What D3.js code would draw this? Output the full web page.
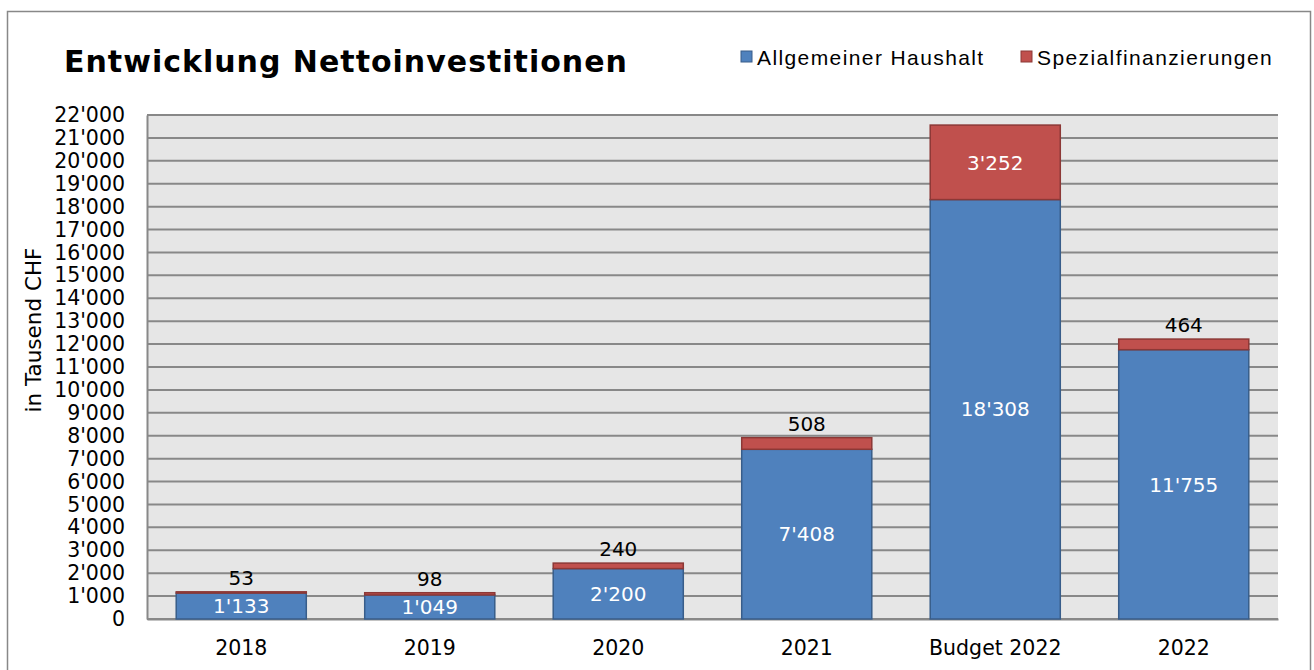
<!DOCTYPE html>
<html>
<head>
<meta charset="utf-8">
<script src="https://cdn.jsdelivr.net/npm/d3@7"></script>
<style>
  body { margin: 0; background: #fff; }
  svg { display: block; }
</style>
</head>
<body>
<svg id="chart" width="1314" height="670"></svg>
<script>
// chart data
const categories = ["2018", "2019", "2020", "2021", "Budget 2022", "2022"];
const allgemeiner = [1133, 1049, 2200, 7408, 18308, 11755];
const spezial = [53, 98, 240, 508, 3252, 464];
const seriesNames = ["Allgemeiner Haushalt", "Spezialfinanzierungen"];
const yTicks = d3.range(0, 22001, 1000);

const fill = ["#4F81BD", "#C0504D"];
const stroke = ["#385D8A", "#8C3836"];
const tickFont = "DejaVu Sans, Verdana, sans-serif";
const fmt = v => d3.format(",")(v).replace(/,/g, "'");

const svg = d3.select("#chart");

// outer frame
svg.append("rect")
    .attr("x", 7.5).attr("y", 11.5)
    .attr("width", 1303).attr("height", 680)
    .attr("fill", "#fff")
    .attr("stroke", "#888").attr("stroke-width", 1.5);

const margin = { left: 147, right: 1278, top: 115, bottom: 619 };

const x = d3.scaleBand()
    .domain(categories)
    .range([margin.left, margin.right])
    .paddingInner(0.31)
    .paddingOuter(0.155);

const y = d3.scaleLinear()
    .domain([0, 22000])
    .range([margin.bottom, margin.top]);

// plot background
svg.append("rect")
    .attr("x", margin.left).attr("y", margin.top)
    .attr("width", margin.right - margin.left)
    .attr("height", margin.bottom - margin.top)
    .attr("fill", "#E6E6E6");

// gridlines
svg.append("g")
    .selectAll("line")
    .data(yTicks)
    .join("line")
    .attr("x1", margin.left).attr("x2", margin.right)
    .attr("y1", d => y(d)).attr("y2", d => y(d))
    .attr("stroke", "#888").attr("stroke-width", 2);

// y axis
const yAxis = svg.append("g")
    .attr("transform", `translate(${margin.left},0)`)
    .call(d3.axisLeft(y).tickValues(yTicks).tickSize(0).tickPadding(22).tickFormat(fmt));
yAxis.select(".domain").attr("stroke", "#888").attr("stroke-width", 2);
yAxis.selectAll("text")
    .attr("font-family", tickFont).attr("font-size", 20.5).attr("fill", "#000");

// x axis
const xAxis = svg.append("g")
    .attr("transform", `translate(0,${margin.bottom})`)
    .call(d3.axisBottom(x).tickSize(0).tickPadding(21));
xAxis.select(".domain").attr("stroke", "#888").attr("stroke-width", 2);
xAxis.selectAll("text")
    .attr("font-family", tickFont).attr("font-size", 20.5).attr("fill", "#000");

// stacked bars
const rows = categories.map((c, i) => ({ cat: c, a: allgemeiner[i], s: spezial[i] }));
const stack = d3.stack().keys(["a", "s"])(rows);

stack.forEach((layer, k) => {
    svg.append("g")
        .selectAll("rect")
        .data(layer)
        .join("rect")
        .attr("x", d => x(d.data.cat))
        .attr("width", x.bandwidth())
        .attr("y", d => y(d[1]))
        .attr("height", d => y(d[0]) - y(d[1]))
        .attr("fill", fill[k])
        .attr("stroke", stroke[k])
        .attr("stroke-width", 1.5);
});

// labels for the blue segments (white, centered)
svg.append("g")
    .selectAll("text")
    .data(stack[0])
    .join("text")
    .attr("x", d => x(d.data.cat) + x.bandwidth() / 2)
    .attr("y", d => (y(d[0]) + y(d[1])) / 2)
    .attr("dy", "0.36em")
    .attr("text-anchor", "middle")
    .attr("font-family", tickFont).attr("font-size", 20)
    .attr("fill", "#fff")
    .text(d => fmt(d.data.a));

// labels for the red segments: inside when tall, else above
svg.append("g")
    .selectAll("text")
    .data(stack[1])
    .join("text")
    .attr("x", d => x(d.data.cat) + x.bandwidth() / 2)
    .attr("y", d => {
        const h = y(d[0]) - y(d[1]);
        return h > 30 ? (y(d[0]) + y(d[1])) / 2 : y(d[1]) - 14;
    })
    .attr("dy", "0.36em")
    .attr("text-anchor", "middle")
    .attr("font-family", tickFont).attr("font-size", 20)
    .attr("fill", d => (y(d[0]) - y(d[1]) > 30 ? "#fff" : "#000"))
    .text(d => fmt(d.data.s));

// axis title
svg.append("text")
    .attr("transform", "translate(41,330) rotate(-90)")
    .attr("text-anchor", "middle")
    .attr("font-family", tickFont).attr("font-size", 21.5)
    .text("in Tausend CHF");

// chart title
svg.append("text")
    .attr("x", 64).attr("y", 72)
    .attr("font-family", tickFont).attr("font-weight", "bold").attr("font-size", 30)
    .attr("letter-spacing", 1)
    .text("Entwicklung Nettoinvestitionen");

// legend
const legendX = [741, 1021];
const legend = svg.append("g")
    .selectAll("g")
    .data(seriesNames)
    .join("g")
    .attr("transform", (d, i) => `translate(${legendX[i]},51)`);
legend.append("rect")
    .attr("width", 11).attr("height", 11)
    .attr("fill", (d, i) => fill[i])
    .attr("stroke", (d, i) => stroke[i]).attr("stroke-width", 1);
legend.append("text")
    .attr("x", 16).attr("y", 14)
    .attr("font-family", "Liberation Sans, Arial, sans-serif")
    .attr("font-size", 21)
    .attr("letter-spacing", 1.4)
    .text(d => d);
</script>
</body>
</html>
